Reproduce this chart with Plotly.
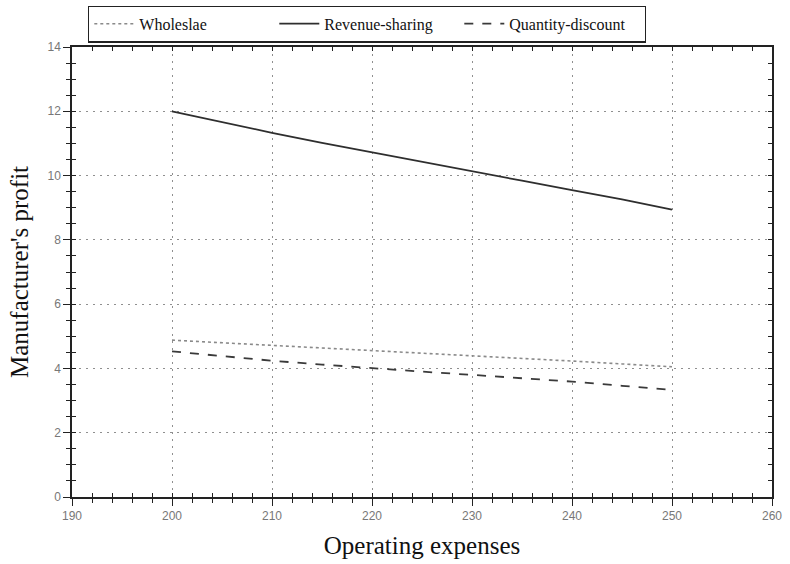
import plotly.graph_objects as go

# Operating expenses (x) and manufacturer's profit under each contract type
expenses = [200, 205, 210, 215, 220, 225, 230, 235, 240, 245, 250]
wholesale = [4.88, 4.80, 4.71, 4.63, 4.55, 4.48, 4.41, 4.33, 4.23, 4.14, 4.05]
revenue_sharing = [12.0, 11.66, 11.33, 11.02, 10.72, 10.42, 10.12, 9.84, 9.55, 9.26, 8.94]
quantity_discount = [4.53, 4.38, 4.24, 4.12, 4.00, 3.90, 3.80, 3.70, 3.59, 3.46, 3.33]

x_ticks = [190, 200, 210, 220, 230, 240, 250, 260]
y_ticks = [0, 2, 4, 6, 8, 10, 12, 14]

serif = "Liberation Serif, Times New Roman, serif"
sans = "Liberation Sans, Arial, sans-serif"

fig = go.Figure()
fig.add_trace(go.Scatter(x=expenses, y=wholesale, mode="lines", name="Wholeslae",
                         line=dict(color="#8a8a8a", width=1.6, dash="dot")))
fig.add_trace(go.Scatter(x=expenses, y=revenue_sharing, mode="lines", name="Revenue-sharing",
                         line=dict(color="#2e2e2e", width=1.8)))
fig.add_trace(go.Scatter(x=expenses, y=quantity_discount, mode="lines", name="Quantity-discount",
                         line=dict(color="#3a3a3a", width=1.8, dash="dash")))

# invisible trace that carries the inner tick marks on the overlaid axes
fig.add_trace(go.Scatter(x=[190, 260], y=[0, 14], mode="markers", xaxis="x2", yaxis="y2",
                         marker=dict(opacity=0), showlegend=False, hoverinfo="skip"))

axis_common = dict(showline=True, linecolor="#222", linewidth=1.5, zeroline=False)
grid_dash = "2px,5px"

fig.update_layout(
    width=790, height=564,
    margin=dict(l=72, r=18, t=47, b=67, autoexpand=False),
    paper_bgcolor="white", plot_bgcolor="white",
    xaxis=dict(range=[190, 260], tickvals=x_ticks, ticks="outside", ticklen=7,
               tickcolor="#222", tickwidth=1.2, mirror=True,
               showgrid=True, gridcolor="#8f8f8f", griddash=grid_dash, gridwidth=1,
               tickfont=dict(family=sans, size=12, color="#777"),
               minor=dict(dtick=2, ticks="outside", ticklen=4, tickcolor="#222", showgrid=False),
               title=dict(text="Operating expenses", font=dict(family=serif, size=25, color="#111"),
                          standoff=14),
               **axis_common),
    yaxis=dict(range=[0, 14], tickvals=y_ticks, ticks="outside", ticklen=7,
               tickcolor="#222", tickwidth=1.2, mirror=True,
               showgrid=True, gridcolor="#8f8f8f", griddash=grid_dash, gridwidth=1,
               tickfont=dict(family=sans, size=12, color="#777"),
               minor=dict(dtick=0.5, ticks="outside", ticklen=4, tickcolor="#222", showgrid=False),
               title=dict(text="Manufacturer's profit", font=dict(family=serif, size=25, color="#111"),
                          standoff=12),
               **axis_common),
    xaxis2=dict(range=[190, 260], overlaying="x", tickvals=x_ticks, ticks="inside", ticklen=4,
                tickcolor="#222", showticklabels=False, showgrid=False, zeroline=False,
                mirror="allticks", showline=False,
                minor=dict(dtick=2, ticks="inside", ticklen=4, tickcolor="#222")),
    yaxis2=dict(range=[0, 14], overlaying="y", tickvals=y_ticks, ticks="inside", ticklen=4,
                tickcolor="#222", showticklabels=False, showgrid=False, zeroline=False,
                mirror="allticks", showline=False,
                minor=dict(dtick=0.5, ticks="inside", ticklen=4, tickcolor="#222")),
    legend=dict(orientation="h", x=0.023, xanchor="left", y=1.092, yanchor="top",
                bordercolor="#222", borderwidth=1.2, bgcolor="white",
                font=dict(family=serif, size=16, color="#111"),
                entrywidth=130, entrywidthmode="pixels", itemwidth=40,
                tracegroupgap=0),
    showlegend=True,
)

fig.write_html("out.html")
